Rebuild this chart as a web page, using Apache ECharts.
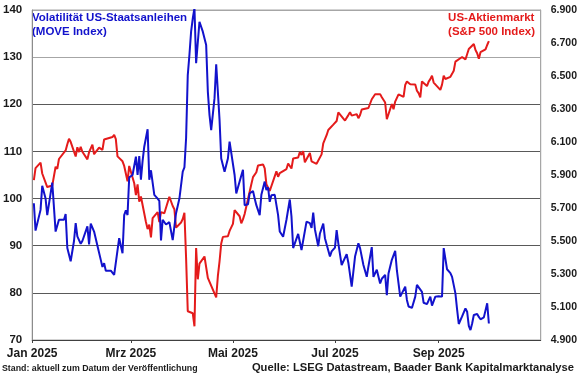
<!DOCTYPE html>
<html>
<head>
<meta charset="utf-8">
<script src="https://cdn.jsdelivr.net/npm/echarts@6/dist/echarts.min.js"></script>
<style>html,body{margin:0;padding:0;background:#fff}#c{width:580px;height:375px}</style>
</head>
<body>
<div id="c"></div>
<script>
// ---- Data ----
var xTickDates = ['2025-01-01','2025-03-01','2025-05-01','2025-07-01','2025-09-01'];
var xTickLabels = ['Jan 2025','Mrz 2025','Mai 2025','Jul 2025','Sep 2025'];
var xMaxDate = '2025-11-01';

var leftTicks = [70, 140, 10];      // min, max, step (MOVE)
var rightTicks = [4900, 6900, 200]; // min, max, step (S&P 500)

var spDates = [
'2025-01-02','2025-01-03','2025-01-06','2025-01-07','2025-01-08','2025-01-10','2025-01-13','2025-01-14','2025-01-15','2025-01-16','2025-01-17','2025-01-21','2025-01-22','2025-01-23','2025-01-24','2025-01-27','2025-01-28','2025-01-29','2025-01-30','2025-01-31',
'2025-02-03','2025-02-04','2025-02-05','2025-02-06','2025-02-07','2025-02-10','2025-02-11','2025-02-12','2025-02-13','2025-02-14','2025-02-18','2025-02-19','2025-02-20','2025-02-21','2025-02-24','2025-02-25','2025-02-26','2025-02-27','2025-02-28',
'2025-03-03','2025-03-04','2025-03-05','2025-03-06','2025-03-07','2025-03-10','2025-03-11','2025-03-12','2025-03-13','2025-03-14','2025-03-17','2025-03-18','2025-03-19','2025-03-20','2025-03-21','2025-03-24','2025-03-25','2025-03-26','2025-03-27','2025-03-28','2025-03-31',
'2025-04-01','2025-04-02','2025-04-03','2025-04-04','2025-04-07','2025-04-08','2025-04-09','2025-04-10','2025-04-11','2025-04-14','2025-04-15','2025-04-16','2025-04-17','2025-04-21','2025-04-22','2025-04-23','2025-04-24','2025-04-25','2025-04-28','2025-04-29','2025-04-30',
'2025-05-01','2025-05-02','2025-05-05','2025-05-06','2025-05-07','2025-05-08','2025-05-09','2025-05-12','2025-05-13','2025-05-14','2025-05-15','2025-05-16','2025-05-19','2025-05-20','2025-05-21','2025-05-22','2025-05-23','2025-05-27','2025-05-28','2025-05-29','2025-05-30',
'2025-06-02','2025-06-03','2025-06-04','2025-06-05','2025-06-06','2025-06-09','2025-06-10','2025-06-11','2025-06-12','2025-06-13','2025-06-16','2025-06-17','2025-06-18','2025-06-20','2025-06-23','2025-06-24','2025-06-25','2025-06-26','2025-06-27','2025-06-30',
'2025-07-01','2025-07-02','2025-07-03','2025-07-07','2025-07-08','2025-07-09','2025-07-10','2025-07-11','2025-07-14','2025-07-15','2025-07-16','2025-07-17','2025-07-18','2025-07-21','2025-07-22','2025-07-23','2025-07-24','2025-07-25','2025-07-28','2025-07-29','2025-07-30','2025-07-31',
'2025-08-01','2025-08-04','2025-08-05','2025-08-06','2025-08-07','2025-08-08','2025-08-11','2025-08-12','2025-08-13','2025-08-14','2025-08-15','2025-08-18','2025-08-19','2025-08-20','2025-08-21','2025-08-22','2025-08-25','2025-08-26','2025-08-27','2025-08-28','2025-08-29',
'2025-09-02','2025-09-03','2025-09-04','2025-09-05','2025-09-08','2025-09-09','2025-09-10','2025-09-11','2025-09-12','2025-09-15','2025-09-16','2025-09-17','2025-09-18','2025-09-19','2025-09-22','2025-09-23','2025-09-24','2025-09-25','2025-09-26','2025-09-29','2025-09-30',
'2025-10-01'];
var spValues = [
5869,5942,5975,5909,5918,5827,5836,5843,5950,5937,5997,6049,6086,6119,6101,6012,6068,6039,6071,6041,
5995,6038,6061,6084,6026,6066,6069,6052,6115,6115,6130,6144,6118,6013,5983,5955,5956,5862,5955,
5850,5778,5843,5739,5770,5615,5572,5599,5522,5639,5675,5615,5675,5663,5668,5768,5777,5712,5693,5581,5612,
5633,5671,5397,5074,5062,4983,5457,5268,5363,5406,5397,5276,5283,5158,5288,5376,5485,5525,5529,5561,5569,
5604,5687,5650,5607,5631,5664,5660,5844,5887,5893,5917,5958,5964,5940,5845,5842,5803,5922,5889,5912,5912,
5936,5970,5971,5939,6000,6006,6039,6022,6045,5977,6033,5983,5981,5968,6025,6092,6092,6141,6173,6205,
6198,6227,6279,6230,6226,6263,6280,6260,6269,6244,6264,6297,6297,6306,6310,6359,6363,6389,6390,6371,6363,6339,
6238,6330,6299,6345,6340,6389,6373,6446,6467,6469,6450,6449,6411,6396,6370,6467,6439,6466,6481,6502,6460,
6416,6448,6502,6482,6495,6513,6532,6587,6584,6615,6607,6600,6632,6664,6694,6657,6638,6605,6644,6661,6688,
6711];

var moveDates = [
'2025-01-02','2025-01-03','2025-01-06','2025-01-07','2025-01-09','2025-01-10','2025-01-13','2025-01-15','2025-01-16','2025-01-17','2025-01-20','2025-01-21','2025-01-22','2025-01-24','2025-01-26','2025-01-27','2025-01-28','2025-01-30','2025-01-31',
'2025-02-03','2025-02-04','2025-02-05','2025-02-07','2025-02-09','2025-02-11','2025-02-12','2025-02-13','2025-02-14','2025-02-17','2025-02-19','2025-02-22','2025-02-24','2025-02-25','2025-02-26','2025-02-27','2025-02-28',
'2025-03-02','2025-03-04','2025-03-05','2025-03-06','2025-03-07','2025-03-08','2025-03-09','2025-03-11','2025-03-12','2025-03-13','2025-03-15','2025-03-17','2025-03-18','2025-03-19','2025-03-20','2025-03-22','2025-03-24','2025-03-25','2025-03-26','2025-03-27','2025-03-28','2025-03-30',
'2025-04-01','2025-04-02','2025-04-03','2025-04-04','2025-04-05','2025-04-06','2025-04-07','2025-04-08','2025-04-09','2025-04-10','2025-04-11','2025-04-13','2025-04-15','2025-04-16','2025-04-17','2025-04-18','2025-04-19','2025-04-20','2025-04-21','2025-04-23','2025-04-24','2025-04-26','2025-04-28','2025-04-29','2025-04-30',
'2025-05-02','2025-05-03','2025-05-05','2025-05-07','2025-05-08','2025-05-10','2025-05-11','2025-05-13','2025-05-14','2025-05-15','2025-05-17','2025-05-18','2025-05-20','2025-05-21','2025-05-22','2025-05-23','2025-05-24','2025-05-26','2025-05-27','2025-05-28','2025-05-29','2025-05-31',
'2025-06-01','2025-06-02','2025-06-04','2025-06-05','2025-06-06','2025-06-09','2025-06-11','2025-06-12','2025-06-14','2025-06-16','2025-06-17','2025-06-18','2025-06-19','2025-06-21','2025-06-22','2025-06-24','2025-06-25','2025-06-28','2025-06-29',
'2025-07-01','2025-07-02','2025-07-03','2025-07-05','2025-07-06','2025-07-08','2025-07-09','2025-07-11','2025-07-13','2025-07-15','2025-07-16','2025-07-17','2025-07-18','2025-07-20','2025-07-21','2025-07-23','2025-07-24','2025-07-26','2025-07-28','2025-07-29','2025-07-31',
'2025-08-01','2025-08-02','2025-08-04','2025-08-06','2025-08-07','2025-08-09','2025-08-10','2025-08-12','2025-08-13','2025-08-14','2025-08-16','2025-08-18','2025-08-19','2025-08-20','2025-08-22','2025-08-23','2025-08-25','2025-08-26','2025-08-27','2025-08-28','2025-08-30',
'2025-09-01','2025-09-03','2025-09-04','2025-09-06','2025-09-08','2025-09-09','2025-09-11','2025-09-12','2025-09-13','2025-09-15','2025-09-17','2025-09-18','2025-09-19','2025-09-20','2025-09-21','2025-09-22','2025-09-24','2025-09-25','2025-09-26','2025-09-28','2025-09-29','2025-09-30',
'2025-10-01'];
var moveValues = [
99.0,93.2,97.6,102.7,100.0,96.5,103.4,93.0,92.6,95.5,95.5,96.7,89.5,86.7,91.0,94.8,92.0,90.4,91.0,
94.1,90.3,94.7,93.0,90.0,87.0,85.5,86.3,84.7,84.7,83.8,91.6,88.4,96.5,97.5,96.5,104.5,
105.0,108.9,105.0,109.0,104.0,108.0,111.0,114.7,104.0,106.0,100.8,100.0,99.5,91.1,95.5,94.5,95.0,95.0,91.2,90.8,96.9,100.0,
105.7,106.6,112.8,126.2,130.5,135.4,138.2,140.4,128.7,128.5,137.5,135.4,132.6,122.7,117.7,114.5,114.5,121.3,128.5,116.7,108.5,105.7,108.5,112.1,112.4,
105.0,101.1,103.6,106.1,98.6,98.8,101.1,101.6,100.0,98.6,96.5,100.8,103.6,101.8,102.4,99.3,100.7,100.8,100.8,96.5,93.0,91.9,
93.7,95.5,99.8,96.2,89.5,92.5,89.1,88.9,95.1,94.8,93.8,97.0,93.5,89.9,92.6,94.7,91.6,87.7,88.8,
89.6,93.3,90.5,85.9,85.9,88.2,86.4,81.3,87.7,90.5,89.5,89.8,85.9,83.4,85.6,89.7,83.4,84.9,82.0,83.0,83.8,
79.5,84.1,87.0,88.9,84.8,79.2,79.9,81.3,78.5,77.1,76.8,79.2,81.7,81.3,80.2,77.9,77.6,77.8,79.2,77.3,79.2,
79.3,79.2,89.5,85.0,84.2,83.4,79.9,76.5,73.4,75.0,76.7,76.0,73.0,72.1,73.5,75.3,75.5,74.9,74.4,74.8,75.1,77.8,
73.5];

// ---- Helpers ----
function dayOf(s) {
  var p = s.split('-');
  return (Date.UTC(+p[0], +p[1] - 1, +p[2]) - Date.UTC(2025, 0, 1)) / 86400000;
}
function pairs(dates, vals) {
  return dates.map(function (d, i) { return [dayOf(d), vals[i]]; });
}
var tickDays = xTickDates.map(dayOf);
var labelMap = {};
tickDays.forEach(function (d, i) { labelMap[d] = xTickLabels[i]; });
function deNum(v) {
  var t = Math.floor(v / 1000), r = String(Math.round(v % 1000));
  while (r.length < 3) r = '0' + r;
  return t + '.' + r;
}

var FONT = "'Liberation Sans', Arial, sans-serif";
var BLUE = '#1212cc';
var RED = '#e41b1b';
var TXT = '#1a1a1a';

var chart = echarts.init(document.getElementById('c'), null, { renderer: 'canvas' });
chart.setOption({
  animation: false,
  backgroundColor: '#ffffff',
  grid: { left: 30, top: 10, right: 39, bottom: 35, show: true, borderColor: '#a6a6a6', borderWidth: 1, containLabel: false },
  xAxis: {
    type: 'value',
    min: 0,
    max: dayOf(xMaxDate),
    axisLine: { show: true, lineStyle: { color: '#404040', width: 1 } },
    axisTick: { show: true, length: 3, customValues: tickDays, lineStyle: { color: '#404040' } },
    axisLabel: {
      customValues: tickDays,
      formatter: function (v) { return labelMap[v] || ''; },
      fontFamily: FONT, fontWeight: 'bold', fontSize: 12, color: TXT, margin: 8
    },
    splitLine: { show: false }
  },
  yAxis: [
    {
      type: 'value', position: 'left',
      min: leftTicks[0], max: leftTicks[1], interval: leftTicks[2],
      axisLine: { show: true, lineStyle: { color: '#8c8c8c' } },
      axisTick: { show: false },
      axisLabel: { fontFamily: FONT, fontWeight: 'bold', fontSize: 11.5, color: TXT, margin: 10 },
      splitLine: { show: true, lineStyle: { color: ['#595959','#595959','#595959','#595959','#595959','#595959','#a6a6a6','#a6a6a6'], width: 1 } }
    },
    {
      type: 'value', position: 'right',
      min: rightTicks[0], max: rightTicks[1], interval: rightTicks[2],
      axisLine: { show: true, lineStyle: { color: '#a6a6a6' } },
      axisTick: { show: false },
      axisLabel: { fontFamily: FONT, fontWeight: 'bold', fontSize: 10.5, color: TXT, margin: 10, formatter: deNum },
      splitLine: { show: false }
    }
  ],
  series: [
    {
      name: 'US-Aktienmarkt (S&P 500 Index)', type: 'line', yAxisIndex: 1,
      data: pairs(spDates, spValues), showSymbol: false, symbol: 'none',
      lineStyle: { color: RED, width: 2 }, z: 3
    },
    {
      name: 'Volatilität US-Staatsanleihen (MOVE Index)', type: 'line', yAxisIndex: 0,
      data: pairs(moveDates, moveValues), showSymbol: false, symbol: 'none',
      lineStyle: { color: BLUE, width: 2 }, z: 4
    }
  ],
  graphic: [
    { type: 'text', left: 32, top: 11, style: { text: 'Volatilität US-Staatsanleihen\n(MOVE Index)', fill: BLUE, font: 'bold 11.5px ' + FONT, lineHeight: 14 } },
    { type: 'text', right: 45, top: 11, style: { text: 'US-Aktienmarkt\n(S&P 500 Index)', fill: RED, font: 'bold 11.5px ' + FONT, lineHeight: 14, align: 'right' } },
    { type: 'text', left: 2, top: 364, style: { text: 'Stand: aktuell zum Datum der Veröffentlichung', fill: TXT, font: 'bold 8.8px ' + FONT } },
    { type: 'text', right: 6, top: 362, style: { text: 'Quelle: LSEG Datastream, Baader Bank Kapitalmarktanalyse', fill: TXT, font: 'bold 11.2px ' + FONT } }
  ]
});
</script>
</body>
</html>
